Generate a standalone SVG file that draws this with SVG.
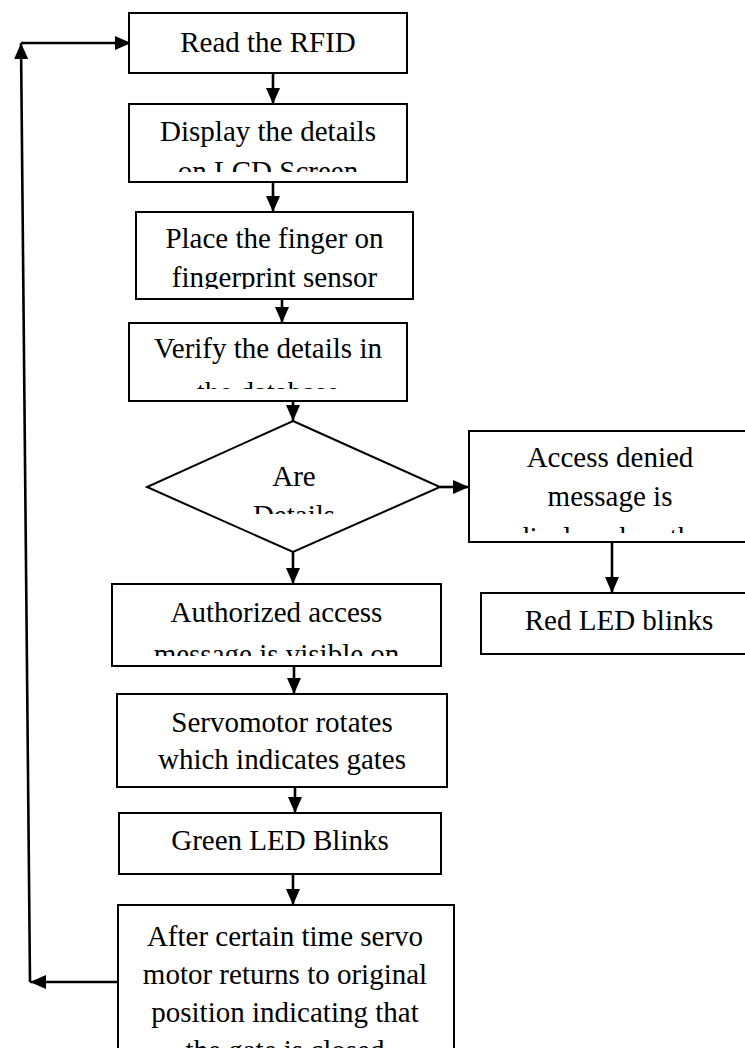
<svg xmlns="http://www.w3.org/2000/svg" width="745" height="1048" viewBox="0 0 745 1048">
<style>
.box{fill:#fff;stroke:#000;stroke-width:2}
.t{font-family:"Liberation Serif","Times New Roman",serif;font-size:29px;fill:#000;text-anchor:middle}
.c{fill:none;stroke:#000;stroke-width:2.6}
</style>
<defs>
<marker id="ah" viewBox="0 0 16 14" markerWidth="16" markerHeight="14" refX="16" refY="7" orient="auto" markerUnits="userSpaceOnUse">
<path d="M0,0 L16,7 L0,14 Z" fill="#000"/>
</marker>
<clipPath id="cp2"><rect x="129" y="104" width="278" height="68"/></clipPath>
<clipPath id="cp3"><rect x="136" y="212" width="277" height="77"/></clipPath>
<clipPath id="cp4"><rect x="129" y="323" width="278" height="66"/></clipPath>
<clipPath id="cpd"><rect x="147" y="421" width="293" height="93"/></clipPath>
<clipPath id="cp5"><rect x="469" y="431" width="282" height="102"/></clipPath>
<clipPath id="cp7"><rect x="112" y="584" width="329" height="72"/></clipPath>
</defs>

<g id="connectors">
<line class="c" x1="273" y1="73" x2="273" y2="104" marker-end="url(#ah)"/>
<line class="c" x1="273" y1="182" x2="273" y2="212" marker-end="url(#ah)"/>
<line class="c" x1="282" y1="299" x2="282" y2="323" marker-end="url(#ah)"/>
<line class="c" x1="293" y1="401" x2="293" y2="421" marker-end="url(#ah)"/>
<line class="c" x1="440" y1="487" x2="469" y2="487" marker-end="url(#ah)"/>
<line class="c" x1="612" y1="542" x2="612" y2="593" marker-end="url(#ah)"/>
<line class="c" x1="293" y1="552" x2="293" y2="584" marker-end="url(#ah)"/>
<line class="c" x1="294" y1="666" x2="294" y2="694" marker-end="url(#ah)"/>
<line class="c" x1="295" y1="787" x2="295" y2="813" marker-end="url(#ah)"/>
<line class="c" x1="293" y1="874" x2="293" y2="905" marker-end="url(#ah)"/>
<line class="c" x1="118" y1="982" x2="30" y2="982" marker-end="url(#ah)"/>
<line class="c" x1="30" y1="982" x2="21" y2="43" marker-end="url(#ah)"/>
<line class="c" x1="21" y1="43" x2="131" y2="43" marker-end="url(#ah)"/>
</g>

<g id="n1">
<rect class="box" x="129" y="13" width="278" height="60"/>
<text class="t" x="268" y="52">Read the RFID</text>
</g>
<g id="n2">
<rect class="box" x="129" y="104" width="278" height="78"/>
<g clip-path="url(#cp2)">
<text class="t" x="268" y="140.5">Display the details</text>
<text class="t" x="268" y="181">on LCD Screen</text>
</g>
</g>
<g id="n3">
<rect class="box" x="136" y="212" width="277" height="87"/>
<g clip-path="url(#cp3)">
<text class="t" x="274.5" y="248">Place the finger on</text>
<text class="t" x="274.5" y="286.5">fingerprint sensor</text>
</g>
</g>
<g id="n4">
<rect class="box" x="129" y="323" width="278" height="78"/>
<g clip-path="url(#cp4)">
<text class="t" x="268" y="358">Verify the details in</text>
<text class="t" x="268" y="402">the database</text>
</g>
</g>
<g id="n5">
<polygon class="box" points="293,421 440,487 293,552 147,487"/>
<g clip-path="url(#cpd)">
<text class="t" x="294" y="486">Are</text>
<text class="t" x="294" y="525">Details</text>
</g>
</g>
<g id="n6">
<rect class="box" x="469" y="431" width="282" height="111"/>
<g clip-path="url(#cp5)">
<text class="t" x="610" y="467">Access denied</text>
<text class="t" x="610" y="506">message is</text>
<text class="t" x="610" y="547">displayed on the</text>
</g>
</g>
<g id="n7">
<rect class="box" x="481" y="593" width="276" height="61"/>
<text class="t" x="619" y="630">Red LED blinks</text>
</g>
<g id="n8">
<rect class="box" x="112" y="584" width="329" height="82"/>
<g clip-path="url(#cp7)">
<text class="t" x="276.5" y="622">Authorized access</text>
<text class="t" x="276.5" y="664">message is visible on</text>
</g>
</g>
<g id="n9">
<rect class="box" x="117" y="694" width="330" height="93"/>
<text class="t" x="282" y="732">Servomotor rotates</text>
<text class="t" x="282" y="769">which indicates gates</text>
</g>
<g id="n10">
<rect class="box" x="119" y="813" width="322" height="61"/>
<text class="t" x="280" y="850">Green LED Blinks</text>
</g>
<g id="n11">
<rect class="box" x="118" y="905" width="336" height="160"/>
<text class="t" x="285" y="946">After certain time servo</text>
<text class="t" x="285" y="984">motor returns to original</text>
<text class="t" x="285" y="1022">position indicating that</text>
<text class="t" x="285" y="1060">the gate is closed</text>
</g>
</svg>
